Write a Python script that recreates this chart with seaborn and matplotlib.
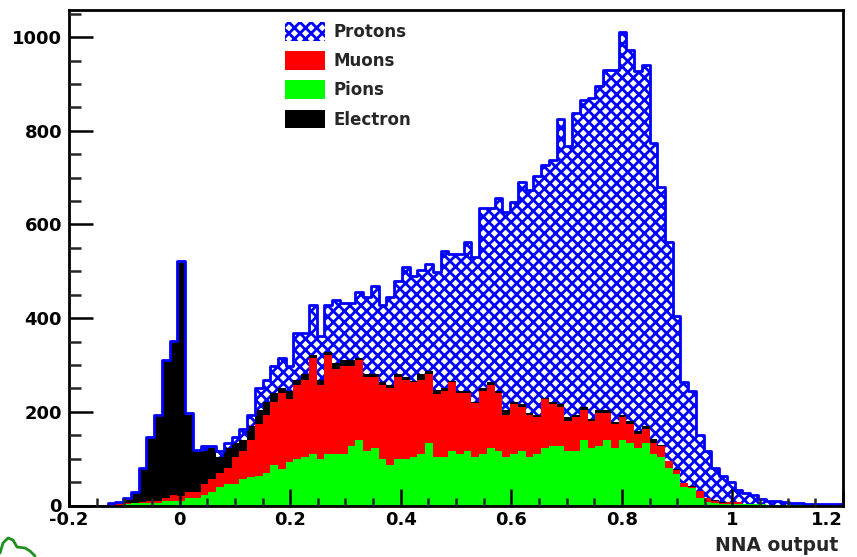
import numpy as np
import pandas as pd
import matplotlib
matplotlib.use("Agg")
import matplotlib.pyplot as plt
from matplotlib.patches import Patch
from matplotlib.lines import Line2D
from matplotlib.ticker import MultipleLocator, FixedLocator, FixedFormatter
import seaborn as sns

# Histogram binning of the network output
x_min, x_max, n_bins = -0.2, 1.2, 100

# Counts per bin for each particle species
pions = [0, 0, 0, 0, 0, 0, 0, 4, 5, 5, 6, 6, 10, 10, 10, 17, 17, 23, 29, 40,
         46, 46, 56, 60, 63, 69, 86, 78, 93, 99, 104, 110, 99, 110, 110, 110, 127, 140, 116, 122,
         99, 86, 99, 99, 104, 110, 134, 104, 104, 116, 111, 116, 104, 111, 123, 116, 104, 111, 116, 104,
         111, 123, 127, 127, 116, 116, 140, 123, 127, 140, 123, 140, 133, 123, 134, 111, 104, 80, 68, 40,
         37, 16, 8, 5, 4, 4, 3, 3, 3, 3, 2, 2, 2, 3, 3, 3, 3, 2, 0, 0]
muons = [0, 0, 0, 0, 0, 5, 5, 1, 1, 3, 4, 4, 7, 13, 10, 12, 12, 23, 27, 29,
         34, 58, 60, 80, 111, 124, 135, 162, 135, 158, 164, 205, 158, 212, 182, 188, 171, 171, 159, 153,
         158, 165, 176, 169, 160, 158, 147, 134, 141, 148, 129, 124, 115, 134, 134, 124, 89, 106, 95, 89,
         78, 105, 90, 84, 65, 73, 64, 58, 71, 58, 51, 49, 41, 30, 29, 23, 23, 14, 8, 7,
         3, 14, 7, 5, 2, 4, 5, 1, 0, 0, 0, 0, 0, 0, 0, 0, 0, 0, 0, 0]
electrons = [0, 0, 0, 0, 0, 0, 3, 11, 23, 72, 136, 183, 294, 328, 497, 164, 87, 70, 66, 35,
             42, 30, 24, 30, 30, 28, 19, 11, 17, 11, 13, 7, 11, 6, 13, 13, 13, 4, 6, 6,
             7, 6, 6, 7, 2, 13, 6, 9, 6, 2, 5, 5, 3, 6, 7, 5, 11, 4, 6, 5,
             4, 2, 4, 6, 8, 4, 6, 4, 6, 6, 4, 4, 7, 6, 7, 8, 2, 2, 2, 1,
             1, 0, 1, 1, 1, 0, 0, 0, 0, 0, 0, 0, 0, 0, 0, 0, 0, 0, 0, 0]
protons = [0, 0, 0, 0, 0, 0, 0, 0, 0, 0, 0, 0, 0, 0, 5, 4, 2, 11, 5, 12,
           12, 12, 23, 23, 46, 46, 58, 64, 53, 100, 87, 106, 93, 100, 134, 121, 121, 141, 164, 188,
           164, 188, 199, 235, 224, 222, 229, 252, 293, 271, 292, 318, 309, 385, 372, 411, 422, 428, 473, 475,
           510, 496, 516, 608, 578, 645, 656, 686, 692, 726, 752, 819, 791, 768, 771, 632, 551, 466, 327, 215,
           204, 120, 100, 69, 56, 43, 25, 23, 19, 11, 7, 7, 5, 2, 2, 1, 1, 2, 4, 4]

species = ["Protons", "Muons", "Pions", "Electron"]
colors = {"Protons": "#0000ff", "Muons": "#ff0000", "Pions": "#00ff00", "Electron": "#000000"}

x_ticks = [-0.2, 0.0, 0.2, 0.4, 0.6, 0.8, 1.0, 1.2]
x_tick_labels = ["-0.2", "0", "0.2", "0.4", "0.6", "0.8", "1", "1.2"]
y_ticks = [0, 200, 400, 600, 800, 1000]
y_tick_labels = ["0", "200", "400", "600", "800", "1000"]

edges = np.linspace(x_min, x_max, n_bins + 1)
centers = 0.5 * (edges[:-1] + edges[1:])

# Stacked from the bottom: pions, muons, electrons, protons on top
level_pions = np.array(pions, dtype=float)
level_muons = level_pions + np.array(muons)
level_electrons = level_muons + np.array(electrons)
level_total = level_electrons + np.array(protons)

df = pd.DataFrame({
    "nna": centers,
    "pions": level_pions,
    "muons": level_muons,
    "electrons": level_electrons,
    "total": level_total,
})

sns.set_theme(style="white")
plt.rcParams["font.family"] = ["DejaVu Sans"]
plt.rcParams["font.weight"] = "bold"
plt.rcParams["hatch.color"] = "#0000ff"
plt.rcParams["hatch.linewidth"] = 2.0

fig = plt.figure(figsize=(8.57, 5.57), dpi=100)
ax = fig.add_axes([69 / 857, 51.5 / 557, 774 / 857, 495.5 / 557])

common = dict(x="nna", bins=n_bins, binrange=(x_min, x_max), element="step",
              alpha=1, linewidth=0, ax=ax)
# hatched proton layer spans the full stack height, lower layers are painted over it
sns.histplot(data=df, weights="total", fill=True, color="white",
             edgecolor="#0000ff", hatch="xxx", **common)
sns.histplot(data=df, weights="electrons", fill=True, color=colors["Electron"], **common)
sns.histplot(data=df, weights="muons", fill=True, color=colors["Muons"], **common)
sns.histplot(data=df, weights="pions", fill=True, color=colors["Pions"], **common)
# outline of the full stack
sns.histplot(data=df, x="nna", weights="total", bins=n_bins, binrange=(x_min, x_max),
             element="step", fill=False, color="#0000ff", linewidth=2.0, ax=ax)

ax.set_xlim(x_min, x_max)
ax.set_ylim(0, 1058)
ax.set_ylabel("")
ax.set_xlabel("NNA output", fontsize=13.5, fontweight="bold", ha="right")
ax.xaxis.set_label_coords(0.9935, -0.062)
ax.xaxis.label.set_va("top")

ax.xaxis.set_major_locator(FixedLocator(x_ticks))
ax.xaxis.set_major_formatter(FixedFormatter(x_tick_labels))
ax.xaxis.set_minor_locator(MultipleLocator(0.05))
ax.yaxis.set_major_locator(FixedLocator(y_ticks))
ax.yaxis.set_major_formatter(FixedFormatter(y_tick_labels))
ax.yaxis.set_minor_locator(MultipleLocator(50))

ax.tick_params(axis="x", which="major", direction="in", length=12, width=1.8,
               pad=4, labelsize=13, colors="black")
ax.tick_params(axis="x", which="minor", direction="in", length=6, width=1.8)
ax.tick_params(axis="y", which="major", direction="in", length=17, width=1.8,
               pad=5, labelsize=13, colors="black")
ax.tick_params(axis="y", which="minor", direction="in", length=8.5, width=1.8)
ax.tick_params(which="both", bottom=True, left=True, top=False, right=False)
for lab in ax.get_xticklabels() + ax.get_yticklabels():
    lab.set_fontweight("bold")
# keep the last x label inside the canvas
ax.get_xticklabels()[-1].set_horizontalalignment("right")
ax.get_xticklabels()[-1].set_x(1.2)

for side in ["left", "right", "top", "bottom"]:
    ax.spines[side].set_visible(True)
    ax.spines[side].set_color("black")
    ax.spines[side].set_linewidth(2.0)
ax.set_axisbelow(False)
ax.grid(False)

handles = [
    Patch(facecolor="white", edgecolor="#0000ff", hatch="xxx", linewidth=0),
    Patch(facecolor=colors["Muons"], linewidth=0),
    Patch(facecolor=colors["Pions"], linewidth=0),
    Patch(facecolor=colors["Electron"], linewidth=0),
]
leg = ax.legend(handles, species, loc="upper left",
                bbox_to_anchor=(285 / 857, 1 - 22 / 557), bbox_transform=fig.transFigure,
                frameon=False, borderpad=0, borderaxespad=0,
                handlelength=2.4, handleheight=1.35, labelspacing=0.62, handletextpad=0.5,
                prop={"family": "DejaVu Sans", "weight": "bold", "size": 12})

# small green logo stroke in the lower left corner of the canvas
logo_x = np.array([0, 3, 8, 13, 17, 25, 30, 35]) / 857
logo_y = 1 - np.array([553, 543, 538, 540, 547, 548, 551, 556]) / 557
fig.add_artist(Line2D(logo_x, logo_y, transform=fig.transFigure, color="#1f8f1f",
                      linewidth=2.0, solid_capstyle="round"))

fig.savefig("out.png", dpi=100, facecolor="white")
